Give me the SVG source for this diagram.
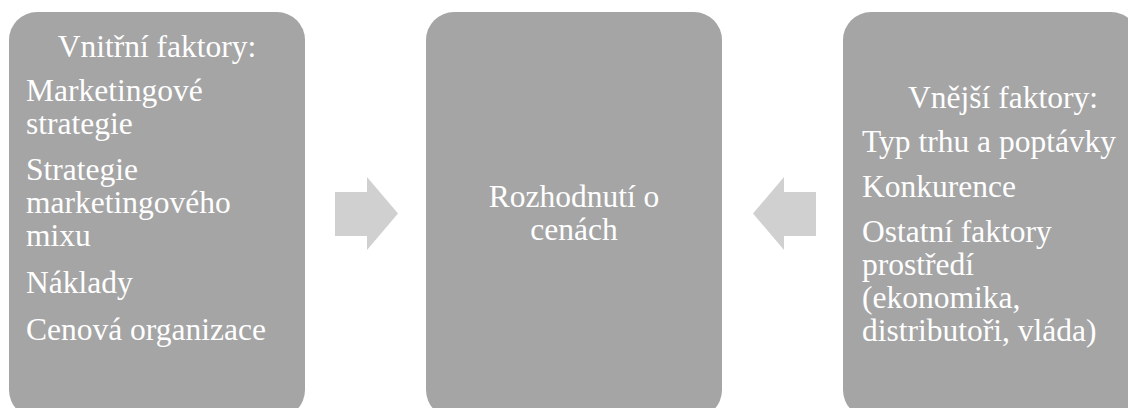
<svg xmlns="http://www.w3.org/2000/svg" width="1128" height="408" viewBox="0 0 1128 408">
  <style>
    .box { fill: #A5A5A5; }
    .arrow { fill: #D0D0D0; }
    .t { font-family: "Liberation Serif", "Times New Roman", serif; font-size: 31.5px; fill: #FFFFFF; }
    .mid { text-anchor: middle; }
  </style>
  <rect width="1128" height="408" fill="#FFFFFF"/>

  <!-- Internal factors -->
  <g id="vnitrni-faktory">
    <rect class="box" x="9" y="12" width="296" height="406" rx="28" ry="28"/>
    <text class="t mid" x="157" y="57">Vnitřní faktory:</text>
    <text class="t" x="26" y="101">Marketingové</text>
    <text class="t" x="26" y="134">strategie</text>
    <text class="t" x="26" y="180">Strategie</text>
    <text class="t" x="26" y="213">marketingového</text>
    <text class="t" x="26" y="246">mixu</text>
    <text class="t" x="26" y="293">Náklady</text>
    <text class="t" x="26" y="340">Cenová organizace</text>
  </g>

  <!-- Pricing decision -->
  <g id="rozhodnuti">
    <rect class="box" x="426" y="12" width="296" height="406" rx="28" ry="28"/>
    <text class="t mid" x="574" y="207">Rozhodnutí o</text>
    <text class="t mid" x="574" y="240">cenách</text>
  </g>

  <!-- External factors -->
  <g id="vnejsi-faktory">
    <rect class="box" x="843" y="12" width="296" height="406" rx="28" ry="28"/>
    <text class="t mid" x="1003" y="108">Vnější faktory:</text>
    <text class="t" x="862" y="152">Typ trhu a poptávky</text>
    <text class="t" x="862" y="197">Konkurence</text>
    <text class="t" x="862" y="242">Ostatní faktory</text>
    <text class="t" x="862" y="275">prostředí</text>
    <text class="t" x="862" y="308">(ekonomika,</text>
    <text class="t" x="862" y="341">distributoři, vláda)</text>
  </g>

  <!-- Connectors -->
  <g id="connectors">
    <polygon class="arrow" points="335,192 367,192 367,177 398,213.5 367,250 367,236 335,236"/>
    <polygon class="arrow" points="816,192 784,192 784,177 753,213.5 784,250 784,236 816,236"/>
  </g>
</svg>
